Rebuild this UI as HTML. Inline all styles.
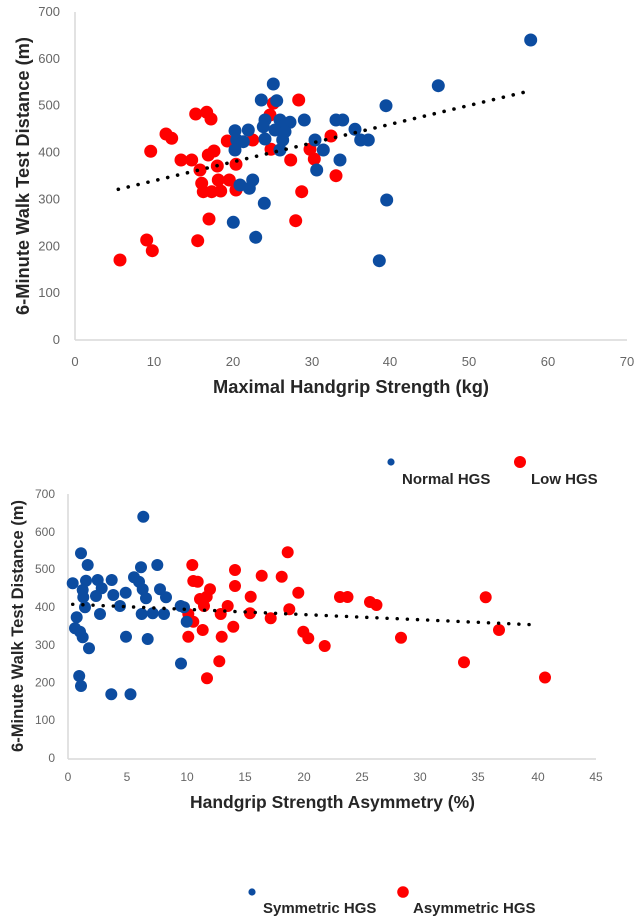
<!DOCTYPE html>
<html><head><meta charset="utf-8"><style>
html,body{margin:0;padding:0;background:#fff;}
svg{display:block;}
.tk{font-family:"Liberation Sans",sans-serif;fill:#666;}
.tt{font-family:"Liberation Sans",sans-serif;font-weight:bold;fill:#262626;}
</style></head><body>
<svg width="640" height="924" viewBox="0 0 640 924" xmlns="http://www.w3.org/2000/svg">
<!-- TOP CHART -->
<g stroke="#d9d9d9" stroke-width="1.5" fill="none">
<line x1="75" y1="12" x2="75" y2="340"/>
<line x1="75" y1="340" x2="627" y2="340"/>
</g>
<g class="tk" font-size="13" text-anchor="end">
<text x="60" y="344">0</text>
<text x="60" y="297">100</text>
<text x="60" y="250.5">200</text>
<text x="60" y="203.5">300</text>
<text x="60" y="156.5">400</text>
<text x="60" y="109.5">500</text>
<text x="60" y="63">600</text>
<text x="60" y="16">700</text>
</g>
<g class="tk" font-size="13" text-anchor="middle">
<text x="75" y="366">0</text>
<text x="154" y="366">10</text>
<text x="233" y="366">20</text>
<text x="312" y="366">30</text>
<text x="390" y="366">40</text>
<text x="469" y="366">50</text>
<text x="548" y="366">60</text>
<text x="627" y="366">70</text>
</g>
<text class="tt" font-size="18" x="351" y="393" text-anchor="middle" textLength="276" lengthAdjust="spacingAndGlyphs">Maximal Handgrip Strength (kg)</text>
<text class="tt" font-size="18" transform="translate(29,176) rotate(-90)" text-anchor="middle" textLength="278" lengthAdjust="spacingAndGlyphs">6-Minute Walk Test Distance (m)</text>
<g fill="#ff0000">
<circle cx="120" cy="260" r="6.5"/><circle cx="146.7" cy="240" r="6.5"/><circle cx="152.3" cy="250.7" r="6.5"/>
<circle cx="197.7" cy="240.7" r="6.5"/><circle cx="209" cy="219" r="6.5"/><circle cx="150.7" cy="151.3" r="6.5"/>
<circle cx="166" cy="134" r="6.5"/><circle cx="171.7" cy="138.3" r="6.5"/><circle cx="195.7" cy="114" r="6.5"/>
<circle cx="206.7" cy="112.3" r="6.5"/><circle cx="211" cy="119" r="6.5"/><circle cx="181" cy="160" r="6.5"/>
<circle cx="191.7" cy="160" r="6.5"/><circle cx="200" cy="170" r="6.5"/><circle cx="208.3" cy="155" r="6.5"/>
<circle cx="214" cy="151" r="6.5"/><circle cx="217.3" cy="166" r="6.5"/><circle cx="227.3" cy="141" r="6.5"/>
<circle cx="236" cy="164.3" r="6.5"/><circle cx="252.7" cy="140" r="6.5"/><circle cx="201.7" cy="183.3" r="6.5"/>
<circle cx="203.3" cy="191.7" r="6.5"/><circle cx="211.7" cy="191.7" r="6.5"/><circle cx="218.3" cy="180" r="6.5"/>
<circle cx="220.7" cy="191" r="6.5"/><circle cx="229.3" cy="180" r="6.5"/><circle cx="236" cy="190" r="6.5"/>
<circle cx="270" cy="115" r="6.5"/><circle cx="273.3" cy="103.3" r="6.5"/><circle cx="298.7" cy="100" r="6.5"/>
<circle cx="271" cy="149.3" r="6.5"/><circle cx="290.7" cy="160" r="6.5"/><circle cx="301.7" cy="191.7" r="6.5"/>
<circle cx="295.7" cy="220.7" r="6.5"/><circle cx="310" cy="149.3" r="6.5"/><circle cx="314.3" cy="159" r="6.5"/>
<circle cx="331" cy="136" r="6.5"/><circle cx="336" cy="175.7" r="6.5"/>
</g>
<g fill="#0c4ca0">
<circle cx="273.3" cy="84" r="6.5"/><circle cx="261.3" cy="100" r="6.5"/><circle cx="276.7" cy="100.7" r="6.5"/>
<circle cx="265" cy="120" r="6.5"/><circle cx="263.3" cy="126.7" r="6.5"/><circle cx="280" cy="120" r="6.5"/>
<circle cx="285" cy="125" r="6.5"/><circle cx="290" cy="122.3" r="6.5"/><circle cx="275" cy="130" r="6.5"/>
<circle cx="285" cy="131.7" r="6.5"/><circle cx="282.7" cy="140" r="6.5"/><circle cx="265" cy="139" r="6.5"/>
<circle cx="280" cy="150" r="6.5"/><circle cx="304.3" cy="120" r="6.5"/><circle cx="235" cy="130.7" r="6.5"/>
<circle cx="248.3" cy="130" r="6.5"/><circle cx="236.7" cy="140" r="6.5"/><circle cx="243.3" cy="141.7" r="6.5"/>
<circle cx="235" cy="150" r="6.5"/><circle cx="240" cy="185" r="6.5"/><circle cx="252.7" cy="180" r="6.5"/>
<circle cx="249.3" cy="188.3" r="6.5"/><circle cx="264.3" cy="203.3" r="6.5"/><circle cx="233.3" cy="222.3" r="6.5"/>
<circle cx="255.7" cy="237.3" r="6.5"/><circle cx="315" cy="140" r="6.5"/><circle cx="323.3" cy="150" r="6.5"/>
<circle cx="340" cy="160" r="6.5"/><circle cx="316.7" cy="170" r="6.5"/><circle cx="336" cy="120" r="6.5"/>
<circle cx="342.7" cy="120" r="6.5"/><circle cx="355" cy="129.3" r="6.5"/><circle cx="360.7" cy="140" r="6.5"/>
<circle cx="368.3" cy="140" r="6.5"/><circle cx="386" cy="105.7" r="6.5"/><circle cx="386.7" cy="200" r="6.5"/>
<circle cx="379.3" cy="260.7" r="6.5"/><circle cx="438.3" cy="85.7" r="6.5"/><circle cx="530.7" cy="40" r="6.5"/>
</g>
<line x1="118.3" y1="189.3" x2="530.7" y2="90.7" stroke="#000" stroke-width="3.6" stroke-linecap="round" stroke-dasharray="0.1 10.05"/>

<!-- TOP LEGEND -->
<circle cx="391" cy="462" r="3.6" fill="#0c4ca0"/>
<circle cx="520" cy="462" r="6" fill="#ff0000"/>
<text class="tt" font-size="15" x="402" y="484">Normal HGS</text>
<text class="tt" font-size="15" x="531" y="484">Low HGS</text>

<!-- BOTTOM CHART -->
<g stroke="#d9d9d9" stroke-width="1.5" fill="none">
<line x1="68" y1="494" x2="68" y2="759"/>
<line x1="68" y1="759" x2="596" y2="759"/>
</g>
<g class="tk" font-size="12" text-anchor="end">
<text x="55" y="762">0</text>
<text x="55" y="724">100</text>
<text x="55" y="686.5">200</text>
<text x="55" y="649">300</text>
<text x="55" y="611">400</text>
<text x="55" y="573">500</text>
<text x="55" y="536">600</text>
<text x="55" y="498">700</text>
</g>
<g class="tk" font-size="12" text-anchor="middle">
<text x="68" y="781">0</text>
<text x="127" y="781">5</text>
<text x="187" y="781">10</text>
<text x="245" y="781">15</text>
<text x="304" y="781">20</text>
<text x="362" y="781">25</text>
<text x="420" y="781">30</text>
<text x="478" y="781">35</text>
<text x="538" y="781">40</text>
<text x="596" y="781">45</text>
</g>
<text class="tt" font-size="17.5" x="332.5" y="808" text-anchor="middle" textLength="285" lengthAdjust="spacingAndGlyphs">Handgrip Strength Asymmetry (%)</text>
<text class="tt" font-size="16.5" transform="translate(23,626) rotate(-90)" text-anchor="middle" textLength="252" lengthAdjust="spacingAndGlyphs">6-Minute Walk Test Distance (m)</text>
<g fill="#ff0000">
<circle cx="192.3" cy="565" r="6"/><circle cx="193.3" cy="581" r="6"/><circle cx="197.7" cy="581.7" r="6"/>
<circle cx="210" cy="589.3" r="6"/><circle cx="206.7" cy="596.7" r="6"/><circle cx="200" cy="599" r="6"/>
<circle cx="204" cy="606" r="6"/><circle cx="188.3" cy="614" r="6"/><circle cx="193.3" cy="621.7" r="6"/>
<circle cx="188.3" cy="636.7" r="6"/><circle cx="202.7" cy="630" r="6"/><circle cx="235" cy="570" r="6"/>
<circle cx="235" cy="586" r="6"/><circle cx="227.7" cy="606" r="6"/><circle cx="220.7" cy="614" r="6"/>
<circle cx="233.3" cy="626.7" r="6"/><circle cx="221.7" cy="636.7" r="6"/><circle cx="219.3" cy="661.3" r="6"/>
<circle cx="207" cy="678.3" r="6"/><circle cx="250.7" cy="596.7" r="6"/><circle cx="250" cy="613.3" r="6"/>
<circle cx="261.7" cy="575.7" r="6"/><circle cx="281.7" cy="576.7" r="6"/><circle cx="287.7" cy="552.3" r="6"/>
<circle cx="298.3" cy="592.7" r="6"/><circle cx="289.3" cy="609.3" r="6"/><circle cx="270.7" cy="618.3" r="6"/>
<circle cx="303.3" cy="631.7" r="6"/><circle cx="308.3" cy="638.3" r="6"/><circle cx="324.7" cy="646" r="6"/>
<circle cx="340" cy="597" r="6"/><circle cx="347.5" cy="597" r="6"/><circle cx="370" cy="602" r="6"/>
<circle cx="376.5" cy="605" r="6"/><circle cx="401" cy="637.7" r="6"/><circle cx="464" cy="662.3" r="6"/>
<circle cx="485.7" cy="597.3" r="6"/><circle cx="499" cy="630" r="6"/><circle cx="545" cy="677.5" r="6"/>
</g>
<g fill="#0c4ca0">
<circle cx="143.3" cy="516.7" r="6"/><circle cx="81" cy="553.3" r="6"/><circle cx="87.7" cy="565" r="6"/>
<circle cx="141" cy="567.3" r="6"/><circle cx="157.3" cy="565" r="6"/><circle cx="72.7" cy="583.3" r="6"/>
<circle cx="86" cy="580.7" r="6"/><circle cx="97.7" cy="580" r="6"/><circle cx="111.7" cy="580" r="6"/>
<circle cx="134" cy="577.3" r="6"/><circle cx="139" cy="581.7" r="6"/><circle cx="82.7" cy="590" r="6"/>
<circle cx="101.7" cy="588.3" r="6"/><circle cx="113.3" cy="595" r="6"/><circle cx="125.7" cy="592.7" r="6"/>
<circle cx="142.7" cy="589.3" r="6"/><circle cx="160" cy="589.3" r="6"/><circle cx="83.3" cy="597.3" r="6"/>
<circle cx="96" cy="596" r="6"/><circle cx="146" cy="598.3" r="6"/><circle cx="166" cy="597.3" r="6"/>
<circle cx="85" cy="607.3" r="6"/><circle cx="120" cy="606" r="6"/><circle cx="180.7" cy="606" r="6"/>
<circle cx="184" cy="607.3" r="6"/><circle cx="100" cy="614" r="6"/><circle cx="141.7" cy="614" r="6"/>
<circle cx="152.7" cy="613.3" r="6"/><circle cx="164" cy="614" r="6"/><circle cx="76.7" cy="617.3" r="6"/>
<circle cx="186.7" cy="621.7" r="6"/><circle cx="75" cy="628.3" r="6"/><circle cx="80" cy="631.7" r="6"/>
<circle cx="82.7" cy="637.3" r="6"/><circle cx="126" cy="636.7" r="6"/><circle cx="147.7" cy="639" r="6"/>
<circle cx="89" cy="648.3" r="6"/><circle cx="181" cy="663.5" r="6"/><circle cx="79.2" cy="676" r="6"/>
<circle cx="81" cy="686" r="6"/><circle cx="111.3" cy="694.3" r="6"/><circle cx="130.5" cy="694.3" r="6"/>
</g>
<line x1="72.7" y1="604.3" x2="538.3" y2="625" stroke="#000" stroke-width="3.4" stroke-linecap="round" stroke-dasharray="0.1 10.05"/>

<!-- BOTTOM LEGEND -->
<circle cx="252" cy="892" r="3.6" fill="#0c4ca0"/>
<circle cx="403" cy="892" r="5.8" fill="#ff0000"/>
<text class="tt" font-size="15" x="263" y="913">Symmetric HGS</text>
<text class="tt" font-size="15" x="413" y="913">Asymmetric HGS</text>
</svg>
</body></html>
